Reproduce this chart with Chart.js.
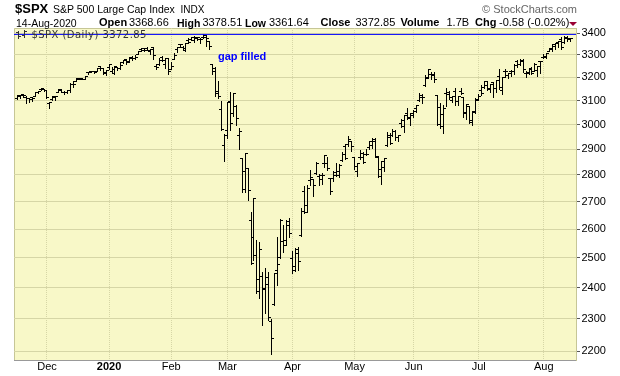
<!DOCTYPE html>
<html>
<head>
<meta charset="utf-8">
<script src="https://cdn.jsdelivr.net/npm/chart.js@4.4.1/dist/chart.umd.min.js"></script>
<style>
html, body { margin: 0; padding: 0; background: #fff; }
#wrap { position: relative; width: 620px; height: 376px; overflow: hidden; font-family: "Liberation Sans", Arial, sans-serif; }
#c { position: absolute; left: 0; top: 0; width: 620px; height: 376px; }
.t { position: absolute; white-space: nowrap; line-height: 1; color: #000; font-size: 11px; }
.b { font-weight: bold; }
</style>
</head>
<body>
<div id="wrap">
  <canvas id="c" width="620" height="376"></canvas>
  <div class="t b" style="left:15px;top:2px;font-size:13px;">$SPX</div>
  <div class="t" style="left:53px;top:4.4px;font-size:10.5px;">S&amp;P 500 Large Cap Index</div>
  <div class="t" style="left:180.5px;top:4.8px;font-size:10px;">INDX</div>
  <div class="t" style="right:43px;top:4px;color:#666;">© StockCharts.com</div>

  <div class="t" style="left:16px;top:17.8px;font-size:10.5px;">14-Aug-2020</div>
  <div class="t b" style="left:99px;top:17.4px;">Open</div>
  <div class="t" style="left:129px;top:17.4px;">3368.66</div>
  <div class="t b" style="left:177px;top:17.8px;font-size:10.5px;">High</div>
  <div class="t" style="left:202.5px;top:17.4px;">3378.51</div>
  <div class="t b" style="left:245px;top:17.8px;font-size:10.5px;">Low</div>
  <div class="t" style="left:269px;top:17.4px;">3361.64</div>
  <div class="t b" style="left:320.5px;top:17.4px;">Close</div>
  <div class="t" style="left:355.5px;top:17.4px;">3372.85</div>
  <div class="t b" style="left:400.5px;top:17.4px;">Volume</div>
  <div class="t" style="left:446.5px;top:17.4px;">1.7B</div>
  <div class="t b" style="left:475px;top:17.4px;">Chg</div>
  <div class="t" style="left:499px;top:17.4px;">-0.58 (-0.02%)</div>
  <div style="position:absolute;left:569px;top:22px;width:0;height:0;border-left:4px solid transparent;border-right:4px solid transparent;border-top:4px solid #990033;"></div>

  <svg style="position:absolute;left:16px;top:30px;" width="13" height="9" viewBox="0 0 13 9">
    <g stroke="#333" stroke-width="1" shape-rendering="crispEdges">
      <line x1="2.5" y1="1" x2="2.5" y2="9"/><line x1="0" y1="2.5" x2="2" y2="2.5"/><line x1="3" y1="6.5" x2="5" y2="6.5"/>
      <line x1="8.5" y1="0" x2="8.5" y2="8"/><line x1="6" y1="5.5" x2="8" y2="5.5"/><line x1="9" y1="1.5" x2="11" y2="1.5"/>
    </g>
  </svg>
  <div class="t" style="left:31.5px;top:29.5px;font-family:'DejaVu Sans',sans-serif;font-size:10px;letter-spacing:0.45px;color:#333;">$SPX (Daily) 3372.85</div>
  <div class="t b" style="left:218px;top:50.7px;color:#0000ff;">gap filled</div>
</div>

<script>
// ---------------- DATA ----------------
const dates = [
  '2019-11-15','2019-11-18','2019-11-19','2019-11-20','2019-11-21','2019-11-22','2019-11-25','2019-11-26','2019-11-27','2019-11-29',
  '2019-12-02','2019-12-03','2019-12-04','2019-12-05','2019-12-06','2019-12-09','2019-12-10','2019-12-11','2019-12-12','2019-12-13','2019-12-16','2019-12-17','2019-12-18','2019-12-19','2019-12-20','2019-12-23','2019-12-24','2019-12-26','2019-12-27','2019-12-30','2019-12-31',
  '2020-01-02','2020-01-03','2020-01-06','2020-01-07','2020-01-08','2020-01-09','2020-01-10','2020-01-13','2020-01-14','2020-01-15','2020-01-16','2020-01-17','2020-01-21','2020-01-22','2020-01-23','2020-01-24','2020-01-27','2020-01-28','2020-01-29','2020-01-30','2020-01-31',
  '2020-02-03','2020-02-04','2020-02-05','2020-02-06','2020-02-07','2020-02-10','2020-02-11','2020-02-12','2020-02-13','2020-02-14','2020-02-18','2020-02-19','2020-02-20','2020-02-21','2020-02-24','2020-02-25','2020-02-26','2020-02-27','2020-02-28',
  '2020-03-02','2020-03-03','2020-03-04','2020-03-05','2020-03-06','2020-03-09','2020-03-10','2020-03-11','2020-03-12','2020-03-13','2020-03-16','2020-03-17','2020-03-18','2020-03-19','2020-03-20','2020-03-23','2020-03-24','2020-03-25','2020-03-26','2020-03-27','2020-03-30','2020-03-31',
  '2020-04-01','2020-04-02','2020-04-03','2020-04-06','2020-04-07','2020-04-08','2020-04-09','2020-04-13','2020-04-14','2020-04-15','2020-04-16','2020-04-17','2020-04-20','2020-04-21','2020-04-22','2020-04-23','2020-04-24','2020-04-27','2020-04-28','2020-04-29','2020-04-30',
  '2020-05-01','2020-05-04','2020-05-05','2020-05-06','2020-05-07','2020-05-08','2020-05-11','2020-05-12','2020-05-13','2020-05-14','2020-05-15','2020-05-18','2020-05-19','2020-05-20','2020-05-21','2020-05-22','2020-05-26','2020-05-27','2020-05-28','2020-05-29',
  '2020-06-01','2020-06-02','2020-06-03','2020-06-04','2020-06-05','2020-06-08','2020-06-09','2020-06-10','2020-06-11','2020-06-12','2020-06-15','2020-06-16','2020-06-17','2020-06-18','2020-06-19','2020-06-22','2020-06-23','2020-06-24','2020-06-25','2020-06-26','2020-06-29','2020-06-30',
  '2020-07-01','2020-07-02','2020-07-06','2020-07-07','2020-07-08','2020-07-09','2020-07-10','2020-07-13','2020-07-14','2020-07-15','2020-07-16','2020-07-17','2020-07-20','2020-07-21','2020-07-22','2020-07-23','2020-07-24','2020-07-27','2020-07-28','2020-07-29','2020-07-30','2020-07-31',
  '2020-08-03','2020-08-04','2020-08-05','2020-08-06','2020-08-07','2020-08-10','2020-08-11','2020-08-12','2020-08-13','2020-08-14'
];

const opens = [
  3107.92,3117.91,3127.45,3114.66,3108.49,3111.41,3117.44,3134.85,3145.49,3147.18,
  3143.85,3087.41,3103.50,3119.21,3134.62,3141.86,3135.36,3135.75,3141.23,3166.65,3183.63,3195.40,3195.21,3192.32,3223.33,3226.05,3225.45,3227.20,3247.23,3240.09,3215.18,
  3244.67,3226.36,3217.55,3241.86,3238.59,3266.03,3280.97,3271.13,3285.35,3282.27,3302.97,3323.66,3321.03,3330.02,3315.77,3333.10,3247.16,3255.35,3289.46,3256.45,3282.33,
  3235.66,3280.61,3324.91,3344.92,3335.54,3318.28,3365.87,3370.50,3365.90,3378.08,3369.04,3380.39,3380.45,3360.50,3257.61,3238.94,3139.90,3062.54,2916.90,
  2974.28,3096.46,3045.75,3075.70,2954.20,2863.89,2813.48,2825.60,2630.86,2569.99,2508.59,2425.66,2436.50,2393.48,2431.94,2290.71,2344.44,2457.77,2501.29,2555.87,2558.98,2614.69,
  2498.08,2458.54,2514.92,2578.28,2738.65,2685.00,2776.99,2782.46,2805.10,2795.64,2799.34,2842.43,2845.62,2784.81,2787.89,2810.42,2812.64,2854.65,2909.96,2918.46,2930.91,
  2869.09,2815.01,2868.88,2883.14,2878.26,2908.83,2915.46,2939.50,2865.86,2794.54,2829.95,2913.86,2948.59,2953.63,2969.95,2948.05,3004.08,3015.65,3046.61,3025.17,
  3038.78,3064.78,3098.90,3111.56,3163.84,3199.92,3213.32,3213.42,3123.53,3071.04,2993.76,3131.00,3136.13,3101.64,3140.29,3094.42,3138.70,3114.40,3046.60,3073.20,3018.59,3050.20,
  3105.92,3143.64,3155.29,3166.44,3153.07,3176.17,3152.47,3205.08,3141.11,3225.98,3208.36,3224.21,3224.29,3268.52,3254.86,3271.64,3218.58,3219.84,3234.27,3227.22,3231.76,3270.45,
  3288.26,3289.92,3317.37,3323.17,3340.05,3356.04,3370.34,3355.46,3372.95,3368.66
];

const highs = [
  3120.46,3124.17,3127.64,3118.97,3110.11,3112.87,3133.83,3142.69,3154.26,3150.30,
  3144.31,3094.97,3119.38,3119.45,3150.60,3148.87,3142.12,3143.98,3176.28,3182.68,3197.71,3198.22,3198.48,3205.48,3225.65,3227.78,3226.43,3240.08,3247.93,3240.92,3231.72,
  3258.14,3246.15,3246.84,3244.91,3267.07,3275.58,3282.99,3288.13,3294.25,3298.66,3317.11,3329.88,3329.79,3337.77,3326.88,3333.18,3258.85,3285.78,3293.47,3285.91,3282.33,
  3268.44,3306.92,3337.58,3347.96,3341.42,3352.26,3375.63,3381.47,3385.09,3380.69,3375.01,3393.52,3389.15,3360.76,3259.81,3246.99,3182.51,3097.07,2959.72,
  3090.96,3136.72,3130.97,3083.04,2985.93,2863.89,2882.59,2825.60,2660.95,2711.33,2562.98,2553.93,2453.57,2466.97,2453.01,2300.73,2449.71,2571.42,2637.01,2615.91,2631.80,2641.39,
  2522.75,2533.22,2538.18,2676.85,2756.89,2760.75,2818.57,2782.46,2851.85,2801.88,2806.51,2879.22,2868.98,2785.54,2815.10,2844.90,2842.71,2887.72,2921.15,2954.86,2930.91,
  2869.09,2844.24,2898.23,2891.11,2901.92,2932.16,2944.25,2945.82,2874.14,2852.80,2865.01,2968.09,2964.21,2980.29,2978.50,2956.76,3021.72,3036.25,3068.67,3049.17,
  3062.18,3081.07,3130.94,3128.91,3211.72,3233.13,3222.71,3223.27,3123.53,3088.42,3079.76,3153.45,3141.16,3120.00,3155.53,3120.92,3154.90,3115.01,3086.25,3073.73,3053.89,3111.51,
  3128.44,3165.81,3182.59,3184.15,3171.80,3179.78,3186.82,3235.32,3200.95,3238.28,3220.39,3233.52,3258.61,3277.29,3279.32,3279.99,3227.26,3241.43,3243.72,3264.74,3250.92,3272.17,
  3302.73,3306.84,3330.77,3351.03,3352.54,3363.29,3381.01,3387.89,3387.24,3378.51
];

const lows = [
  3104.60,3112.06,3113.47,3091.41,3094.55,3099.26,3117.44,3131.00,3143.41,3139.34,
  3110.78,3070.33,3102.53,3103.76,3134.62,3135.46,3126.09,3133.21,3138.47,3156.51,3183.63,3191.03,3191.14,3192.32,3216.03,3222.30,3220.51,3227.20,3234.37,3216.57,3212.03,
  3235.53,3222.34,3214.64,3232.43,3236.67,3263.67,3260.86,3268.43,3277.19,3280.69,3302.82,3318.86,3316.61,3320.04,3301.87,3281.53,3234.50,3253.22,3271.89,3242.80,3214.68,
  3235.66,3280.61,3313.75,3334.39,3322.12,3317.77,3352.72,3369.72,3360.52,3366.15,3355.61,3378.83,3341.02,3328.45,3214.65,3118.77,3108.99,2977.39,2855.84,
  2945.19,2976.63,3034.38,2999.83,2901.54,2734.43,2734.00,2707.22,2478.86,2492.37,2380.94,2367.04,2280.52,2319.78,2295.56,2191.86,2344.44,2407.53,2500.72,2520.02,2545.28,2571.15,
  2447.49,2455.79,2459.96,2574.57,2657.67,2663.30,2762.36,2721.17,2805.10,2761.54,2764.32,2830.88,2820.43,2727.10,2775.95,2794.26,2791.76,2852.89,2860.71,2912.16,2892.47,
  2821.61,2797.85,2863.55,2847.65,2876.48,2902.88,2903.44,2869.59,2793.15,2766.64,2816.78,2913.86,2922.35,2953.63,2938.57,2933.59,2988.17,2969.75,3023.40,2998.61,
  3031.54,3051.64,3098.90,3090.41,3163.84,3196.00,3193.11,3181.49,2999.49,2984.47,2965.66,3076.06,3108.03,3093.51,3083.11,3079.39,3127.12,3032.13,3024.01,3004.63,2999.74,3047.83,
  3101.17,3124.52,3155.29,3142.93,3136.53,3115.70,3136.22,3149.43,3127.66,3200.76,3198.59,3205.65,3215.16,3247.77,3253.10,3222.66,3200.05,3214.25,3216.17,3227.22,3204.13,3220.26,
  3284.53,3286.37,3317.37,3318.14,3328.72,3335.44,3326.44,3355.46,3363.35,3361.64
];

const closes = [
  3120.46,3122.03,3120.18,3108.46,3103.54,3110.29,3133.64,3140.52,3153.63,3140.98,
  3113.87,3093.20,3112.76,3117.43,3145.91,3135.96,3132.52,3141.63,3168.57,3168.80,3191.45,3192.52,3191.14,3205.37,3221.22,3224.01,3223.38,3239.91,3240.02,3221.29,3230.78,
  3257.85,3234.85,3246.28,3237.18,3253.05,3274.70,3265.35,3288.13,3283.15,3289.29,3316.81,3329.62,3320.79,3321.75,3325.54,3295.47,3243.63,3276.24,3273.40,3283.66,3225.52,
  3248.92,3297.59,3334.69,3345.78,3327.71,3352.09,3357.75,3379.45,3373.94,3380.16,3370.29,3386.15,3373.23,3337.75,3225.89,3128.21,3116.39,2978.76,2954.22,
  3090.23,3003.37,3130.12,3023.94,2972.37,2746.56,2882.23,2741.38,2480.64,2711.02,2386.13,2529.19,2398.10,2409.39,2304.92,2237.40,2447.33,2475.56,2630.07,2541.47,2626.65,2584.59,
  2470.50,2526.90,2488.65,2663.68,2659.41,2749.98,2789.82,2761.63,2846.06,2783.36,2799.55,2874.56,2823.16,2736.56,2799.31,2797.80,2836.74,2878.48,2863.39,2939.51,2912.43,
  2830.71,2842.74,2868.44,2848.42,2881.19,2929.80,2930.32,2870.12,2820.00,2852.50,2863.70,2953.91,2922.94,2971.61,2948.51,2955.45,2991.77,3036.13,3029.73,3044.31,
  3055.73,3080.82,3122.87,3112.35,3193.93,3232.39,3207.18,3190.14,3002.10,3041.31,3066.59,3124.74,3113.49,3115.34,3097.74,3117.86,3131.29,3050.33,3083.76,3009.05,3053.24,3100.29,
  3115.86,3130.01,3179.72,3145.32,3169.94,3152.05,3185.04,3155.22,3197.52,3226.56,3215.57,3224.73,3251.84,3257.30,3276.02,3235.66,3215.63,3239.41,3218.44,3258.44,3246.22,3271.12,
  3294.61,3306.51,3327.77,3349.16,3351.28,3360.47,3333.69,3380.35,3373.43,3372.85
];

const monthLabels = ['Dec', '2020', 'Feb', 'Mar', 'Apr', 'May', 'Jun', 'Jul', 'Aug'];
const yTickValues = [2200, 2300, 2400, 2500, 2600, 2700, 2800, 2900, 3000, 3100, 3200, 3300, 3400];
const resistanceLevel = 3393.52;

// ---------------- CHART ----------------
const idx = dates.map((d, i) => i);
const monthStarts = [];
dates.forEach((d, i) => { if (i > 0 && d.slice(0, 7) !== dates[i - 1].slice(0, 7)) monthStarts.push(i); });

const X_MIN = -1.15, X_MAX = 188.88;
const Y_MIN = 2173.9, Y_MAX = 3423.4;
const GRID = '#D6D6A6';

function tickImage(side) {
  const c = document.createElement('canvas');
  c.width = 5; c.height = 1;
  const g = c.getContext('2d');
  g.fillStyle = '#000';
  if (side === 'open') g.fillRect(0, 0, 3, 1); else g.fillRect(2, 0, 3, 1);
  return c;
}

// crisp 1px high-low bars (pixel snapped)
Chart.BarElement.prototype.draw = function (ctx) {
  const p = this.getProps(['x', 'y', 'base']);
  const y0 = Math.round(Math.min(p.y, p.base));
  const y1 = Math.round(Math.max(p.y, p.base));
  ctx.save();
  ctx.fillStyle = this.options.backgroundColor;
  ctx.fillRect(Math.floor(p.x), y0, 1, Math.max(1, y1 - y0 + 1));
  ctx.restore();
};

const plotBg = {
  id: 'plotBg',
  beforeDraw(chart) {
    const { ctx, chartArea: a } = chart;
    ctx.save();
    ctx.fillStyle = '#F8F8C8';
    ctx.fillRect(a.left, a.top, a.right - a.left, a.bottom - a.top);
    ctx.strokeStyle = '#C6C696';
    ctx.lineWidth = 1;
    ctx.beginPath();
    ctx.moveTo(a.left + 0.5, a.bottom);
    ctx.lineTo(a.left + 0.5, a.top + 0.5);
    ctx.lineTo(a.right, a.top + 0.5);
    ctx.stroke();
    ctx.restore();
  },
  beforeDatasetsDraw(chart) { chart.ctx.imageSmoothingEnabled = false; }
};

Chart.defaults.font.family = '"Liberation Sans", Arial, sans-serif';

new Chart(document.getElementById('c'), {
  type: 'bar',
  data: {
    datasets: [
      {
        type: 'line',
        data: [{ x: X_MIN, y: resistanceLevel }, { x: X_MAX, y: resistanceLevel }],
        borderColor: '#0000ff', borderWidth: 1, pointRadius: 0, fill: false, order: 0
      },
      {
        type: 'bar',
        data: idx.map(i => ({ x: i, y: [lows[i], highs[i]] })),
        backgroundColor: '#000', barThickness: 1, order: 3
      },
      {
        type: 'scatter',
        data: idx.map(i => ({ x: i, y: opens[i] })),
        pointStyle: tickImage('open'), pointRadius: 2, pointHoverRadius: 2, order: 2
      },
      {
        type: 'scatter',
        data: idx.map(i => ({ x: i, y: closes[i] })),
        pointStyle: tickImage('close'), pointRadius: 2, pointHoverRadius: 2, order: 1
      }
    ]
  },
  options: {
    responsive: false,
    devicePixelRatio: 1,
    animation: false,
    events: [],
    layout: { padding: { left: 14, top: 28, right: 0, bottom: 0 } },
    plugins: { legend: { display: false }, tooltip: { enabled: false } },
    scales: {
      x: {
        type: 'linear', position: 'bottom', min: X_MIN, max: X_MAX, offset: false,
        afterBuildTicks: s => { s.ticks = monthStarts.map(v => ({ value: v })); },
        afterFit: s => { s.height = 16; },
        ticks: {
          autoSkip: false, maxRotation: 0, padding: 0, color: '#000',
          callback: (v, i) => monthLabels[i],
          font: ctx => ({ size: 11, weight: (ctx.tick && ctx.tick.value === monthStarts[1]) ? 'bold' : 'normal' })
        },
        grid: { color: GRID, drawTicks: false, offset: false },
        border: { display: true, color: '#999999', dash: [1, 1] }
      },
      y: {
        type: 'logarithmic', position: 'right', min: Y_MIN, max: Y_MAX,
        afterBuildTicks: s => { s.ticks = yTickValues.map(v => ({ value: v })); },
        afterFit: s => { s.width = 44; },
        ticks: { autoSkip: false, padding: 1.5, color: '#000', font: { size: 11 }, callback: v => String(v) },
        grid: { color: GRID, drawTicks: true, tickLength: 4, tickColor: '#555' },
        border: { display: true, color: '#C6C696' }
      }
    }
  },
  plugins: [plotBg]
});
</script>
</body>
</html>
